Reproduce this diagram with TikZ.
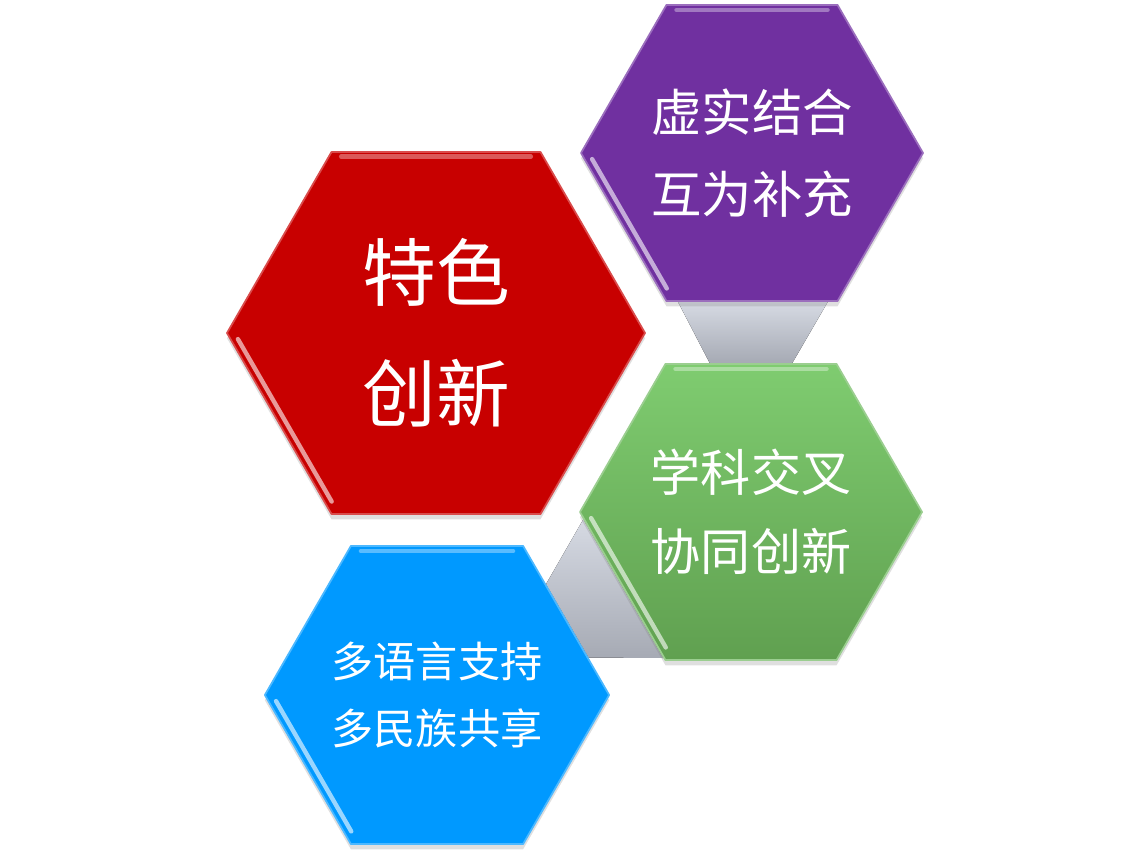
\documentclass[tikz,border=0pt]{standalone}
\usepackage{fontspec}
\newfontfamily\cjk{Noto Sans CJK SC}
\usepackage{tikz}
\usetikzlibrary{shapes.geometric,shadows,calc,backgrounds}
\definecolor{hexred}{RGB}{200,0,0}
\definecolor{hexpurple}{RGB}{112,48,160}
\definecolor{hexblue}{RGB}{0,153,255}
\definecolor{hexgreen}{RGB}{112,185,96}
\definecolor{greentop}{RGB}{127,204,112}
\definecolor{greenbot}{RGB}{96,160,80}
\definecolor{linktop}{RGB}{214,218,227}
\definecolor{linkbot}{RGB}{166,170,180}

\begin{document}
\begin{tikzpicture}[line cap=round,line join=round,x=0.02cm,y=-0.02cm,
hexa/.style={regular polygon,regular polygon sides=6,inner sep=0pt,align=center,text=white,fill=#1,draw=#1!70!white,line width=1pt,drop shadow={opacity=0.25,shadow xshift=0pt,shadow yshift=-3pt}},
shine/.style={white,opacity=0.6,line width=2.5pt,shorten <=4pt,shorten >=4pt},
link/.style={top color=linktop,bottom color=linkbot}]
\useasboundingbox (0,0) rectangle (1148,856);
\node[hexa=hexred,minimum size=418*0.02cm,font=\cjk\fontsize{42}{69}\selectfont] (red) at (436,333) {特色\\创新};
\node[hexa=hexpurple,minimum size=342*0.02cm,font=\cjk\fontsize{28.7}{46.7}\selectfont] (purple) at (752,153) {虚实结合\\互为补充};
\node[hexa=hexgreen,top color=greentop,bottom color=greenbot,minimum size=342*0.02cm,font=\cjk\fontsize{28.5}{45}\selectfont] (green) at (751,512) {学科交叉\\协同创新};
\node[hexa=hexblue,minimum size=342*0.02cm,font=\cjk\fontsize{24}{38}\selectfont] (blue) at (437,695) {多语言支持\\多民族共享};
\draw[shine] ($(red.center)!0.96!(red.corner 3)$) -- ($(red.center)!0.96!(red.corner 4)$);
\draw[shine,opacity=0.35] ($(red.center)!0.97!(red.corner 2)$) -- ($(red.center)!0.97!(red.corner 1)$);
\draw[shine] ($(purple.center)!0.95!(purple.corner 3)$) -- ($(purple.center)!0.95!(purple.corner 4)$);
\draw[shine,opacity=0.35] ($(purple.center)!0.96!(purple.corner 2)$) -- ($(purple.center)!0.96!(purple.corner 1)$);
\draw[shine] ($(green.center)!0.95!(green.corner 3)$) -- ($(green.center)!0.95!(green.corner 4)$);
\draw[shine,opacity=0.35] ($(green.center)!0.96!(green.corner 2)$) -- ($(green.center)!0.96!(green.corner 1)$);
\draw[shine] ($(blue.center)!0.95!(blue.corner 3)$) -- ($(blue.center)!0.95!(blue.corner 4)$);
\draw[shine,opacity=0.35] ($(blue.center)!0.96!(blue.corner 2)$) -- ($(blue.center)!0.96!(blue.corner 1)$);
\begin{scope}[on background layer]
\fill[link] ($(purple.corner 4)!0.07!(purple.corner 5)$) -- ($(purple.corner 5)!0.06!(purple.corner 4)$) -- ($(green.corner 1)!0.26!(green.corner 2)$) -- ($(green.corner 2)!0.26!(green.corner 1)$) -- cycle;
\fill[link] ($(green.corner 3)!0.05!(green.corner 4)$) -- ($(blue.corner 1)!0.26!(blue.corner 6)$) -- ($(blue.corner 1)!0.75!(blue.corner 6)$) -- ($(green.corner 3)!0.98!(green.corner 4)$) -- cycle;
\end{scope}
\end{tikzpicture}
\end{document}
